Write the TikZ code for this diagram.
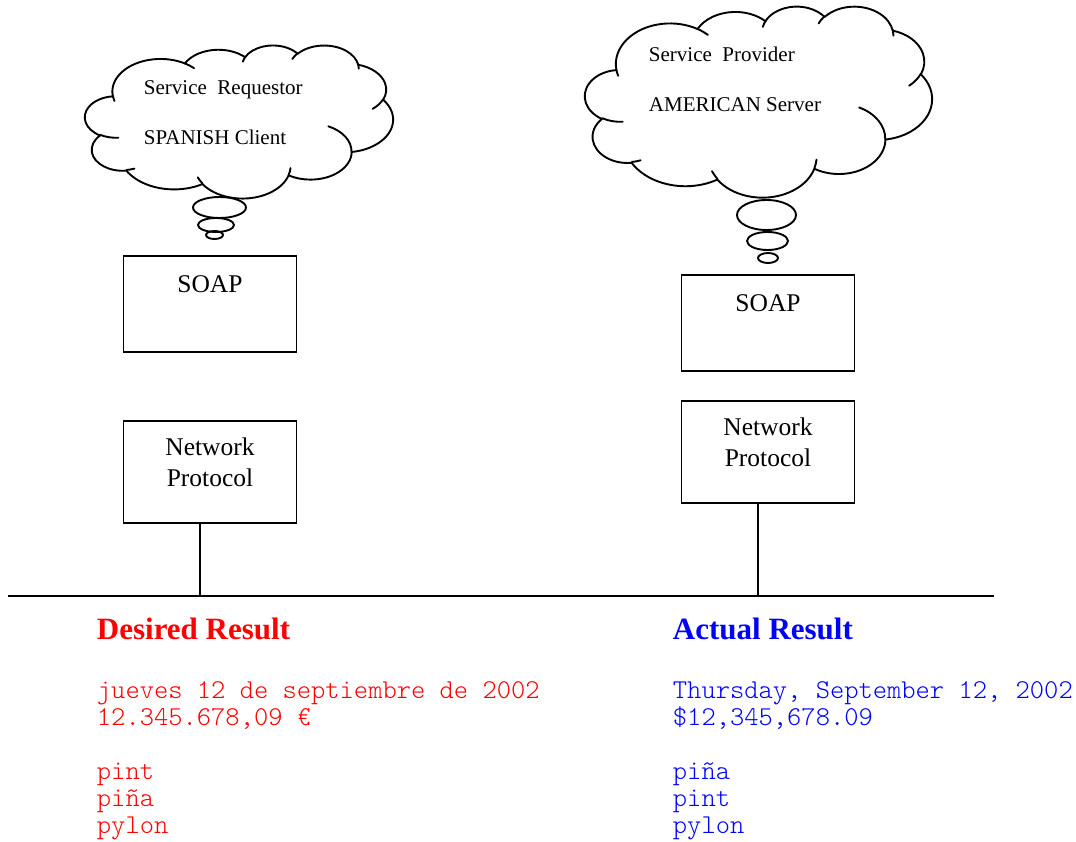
\documentclass[tikz,border=0pt]{standalone}
\usepackage{fontspec}
\setmainfont{Liberation Serif}
\setmonofont{lmmonolt10-regular.otf}
\usetikzlibrary{shapes.geometric}

\begin{document}
\begin{tikzpicture}[
  x=1pt, y=-1pt,
  line width=1.9pt,
  box/.style={draw, minimum width=173pt, align=center,
              font=\fontsize{25.5}{31.5}\selectfont},
  soapbox/.style={box, minimum height=96pt, text height=17pt, text depth=39pt},
  netbox/.style={box, minimum height=102pt, text depth=20pt},
  bubble/.style={draw, ellipse, inner sep=0pt},
  cloudtext/.style={font=\fontsize{21}{50}\selectfont, align=left,
                    anchor=base west, inner sep=0pt},
  result/.style={font=\fontsize{31}{37}\selectfont\bfseries,
                 anchor=base west, inner sep=0pt},
  listing/.style={font=\fontsize{27.2}{27}\selectfont\ttfamily, align=left,
                  anchor=base west, inner sep=0pt},
  % word-processor style cloud, drawn in a 432 x 432 box;
  % angles are the visible ones on each ellipse, turned into parametric ones
  thought cloud/.pic={
    \draw[line join=round] (39.00,143.70)
      \foreach \rx/\ry/\a/\s
        [evaluate=\a as \ta using {atan2(\rx*sin(\a),\ry*cos(\a))},
         evaluate=\a as \td using {Mod(atan2(\rx*sin(\a+\s),\ry*cos(\a+\s))
                                   -atan2(\rx*sin(\a),\ry*cos(\a)),360)}]
        in {67.53/91.90/-190.4875/123.7805, 53.33/72.67/-144.1024/89.9452,
            43.65/59.45/-145.8079/99.7230,  48.57/65.95/-130.9861/117.2417,
            53.33/72.73/-78.7089/109.0269,  67.75/92.20/-46.2673/130.2690,
            57.85/78.67/0.6250/114.0333,    67.52/92.15/22.4516/115.1726,
            77.20/105.43/66.2426/75.7110,   43.60/59.18/-274.9421/146.7356,
            43.45/59.45/-246.8285/152.5189}
      {arc[x radius=\rx, y radius=\ry, start angle=\ta, delta angle=\td]}
      -- cycle;
    % short inner strokes between the puffs
    \draw[line cap=round]
      \foreach \px/\py/\rx/\ry/\a/\s
        [evaluate=\a as \ta using {atan2(\rx*sin(\a),\ry*cos(\a))},
         evaluate=\a as \td using {Mod(atan2(\rx*sin(\a+\s),\ry*cos(\a+\s))
                                   -atan2(\rx*sin(\a),\ry*cos(\a)),360)}]
        in {46.93/261.77/43.45/59.45/86.7420/26.4295,
            69.28/348.99/43.60/59.18/73.6105/11.4475,
            164.78/390.90/67.52/92.15/137.6242/14.0811,
            288.27/347.51/67.52/92.15/6.4533/15.9984,
            341.29/229.54/57.85/78.67/-70.2924/70.9174,
            417.98/153.54/53.33/72.73/30.3180/27.7515,
            383.24/54.26/48.57/65.95/-13.7443/14.8589,
            290.78/39.52/48.57/65.95/-149.1815/18.1954,
            221.41/47.20/43.65/59.45/-163.4943/17.6864,
            140.00/51.92/67.53/91.90/-66.7070/12.3194,
            41.27/157.89/67.53/91.90/157.6544/11.8582}
      {(\px,\py) arc[x radius=\rx, y radius=\ry, start angle=\ta, delta angle=\td]};
  }
]
\useasboundingbox[fill=white] (0,0) rectangle (1076,842);

% client side
\begin{scope}[shift={(85,45)}, x=0.7130pt, y=-0.3542pt]
  \pic {thought cloud};
\end{scope}
\node[cloudtext] (reqtext) at (143,145) {Service\ \ Requestor\\SPANISH Client};
\node[bubble, minimum width=53pt, minimum height=21pt] (reqb1) at (219.5,207.5) {};
\node[bubble, minimum width=36pt, minimum height=14pt] (reqb2) at (216,225) {};
\node[bubble, minimum width=17pt, minimum height=8pt] (reqb3) at (214.5,235) {};

\node[soapbox] (soapL) at (210,304) {SOAP};
\node[netbox] (netL) at (210,472) {Network\\Protocol};

% server side
\begin{scope}[shift={(585,6)}, x=0.8032pt, y=-0.4421pt]
  \pic {thought cloud};
\end{scope}
\node[cloudtext] (provtext) at (648,112) {Service\ \ Provider\\AMERICAN Server};
\node[bubble, minimum width=59pt, minimum height=30pt] (provb1) at (766.5,215) {};
\node[bubble, minimum width=41pt, minimum height=18pt] (provb2) at (767.5,241) {};
\node[bubble, minimum width=20pt, minimum height=10pt] (provb3) at (768,258) {};

\node[soapbox] (soapR) at (768,323) {SOAP};
\node[netbox] (netR) at (768,452) {Network\\Protocol};

% the wire
\coordinate (busW) at (8,596);
\coordinate (busE) at (994,596);
\draw (busW) -- (busE);
\draw ([xshift=-10pt]netL.south) -- ([xshift=-10pt]netL.south |- busW);
\draw ([xshift=-10pt]netR.south) -- ([xshift=-10pt]netR.south |- busW);

% what comes out
\node[result, red] (want) at (96,639) {Desired Result};
\node[listing, red] (wantlist) at (96,833)
  {jueves 12 de septiembre de 2002\\12.345.678,09 €\\[27pt]pint\\piña\\pylon};
\node[result, blue] (got) at (672,639) {Actual Result};
\node[listing, blue] (gotlist) at (672,833)
  {Thursday, September 12, 2002\\\$12,345,678.09\\[27pt]piña\\pint\\pylon};
\end{tikzpicture}
\end{document}
